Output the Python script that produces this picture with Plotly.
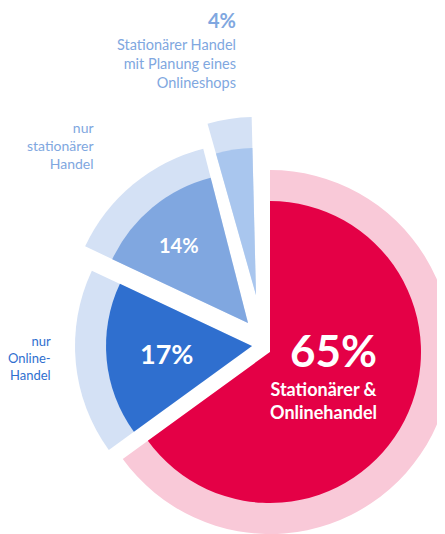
import plotly.graph_objects as go

# data
labels = ["Stationärer & Onlinehandel", "nur Online-Handel", "nur stationärer Handel",
          "Stationärer Handel mit Planung eines Onlineshops"]
values = [65, 17, 14, 4]
dark_colors = ["#E40046", "#2F6FCF", "#80A7E0", "#A9C6EE"]
light_colors = ["#F9C9D8", "#D4E1F5", "#D4E1F5", "#D4E1F5"]

OFF = 8  # default body margin of the html page
W, H = 445, 534

# exploded layout: vertex (x, y from top of window), outer radius, inner radius, rotation
geom = [
    (270, 352, 182, 151, 0),
    (252, 346, 177, 146, 0),
    (248, 323, 180, 150, 0),
    (256, 295, 178, 147, -1.4),
]


def px(x, y):
    return (x - OFF) / W, 1 - (y - OFF) / H


def dom(cx, cy, r):
    x0, y1 = px(cx - r, cy - r)
    x1, y0 = px(cx + r, cy + r)
    return dict(x=[x0, x1], y=[y0, y1])


fig = go.Figure()
for layer in ("light", "dark"):
    for k, (cx, cy, R, r, rot) in enumerate(geom):
        col = light_colors[k] if layer == "light" else dark_colors[k]
        fig.add_trace(go.Pie(
            labels=labels,
            values=values,
            sort=False,
            direction="clockwise",
            rotation=rot,
            marker=dict(colors=[col if i == k else "rgba(0,0,0,0)" for i in range(len(values))],
                        line=dict(width=0)),
            textinfo="none",
            hoverinfo="skip",
            showlegend=False,
            domain=dom(cx, cy, R if layer == "light" else r),
        ))

font = "Lato"
inside = [
    dict(x=333, y=350, text=f"<b>{values[0]}%</b>", size=44),
    dict(x=323, y=400, text="<b>Stationärer &<br>Onlinehandel</b>", size=18),
    dict(x=166, y=353, text=f"<b>{values[1]}%</b>", size=27),
    dict(x=179, y=245, text=f"<b>{values[2]}%</b>", size=20),
]
for a in inside:
    x, y = px(a["x"], a["y"])
    fig.add_annotation(x=x, y=y, xref="paper", yref="paper", xanchor="center", yanchor="middle",
                       text=a["text"], showarrow=False, align="center",
                       font=dict(family=font, size=a["size"], color="white"))

outside = [
    dict(x=238, y=20, text=f"<b>{values[3]}%</b>", size=20, color="#80A7E0"),
    dict(x=238, y=63, text="Stationärer Handel<br>mit Planung eines<br>Onlineshops", size=14.5,
         color="#80A7E0"),
    dict(x=96, y=145, text="nur<br>stationärer<br>Handel", size=14, color="#80A7E0"),
    dict(x=53, y=358, text="nur<br>Online-<br>Handel", size=13, color="#2F6FCF"),
]
for a in outside:
    x, y = px(a["x"], a["y"])
    fig.add_annotation(x=x, y=y, xref="paper", yref="paper", xanchor="right", yanchor="middle",
                       text=a["text"], showarrow=False, align="right",
                       font=dict(family=font, size=a["size"], color=a["color"]))

fig.update_layout(
    width=W,
    height=H,
    margin=dict(l=0, r=0, t=0, b=0),
    paper_bgcolor="white",
    plot_bgcolor="white",
)
fig.write_html("out.html")
